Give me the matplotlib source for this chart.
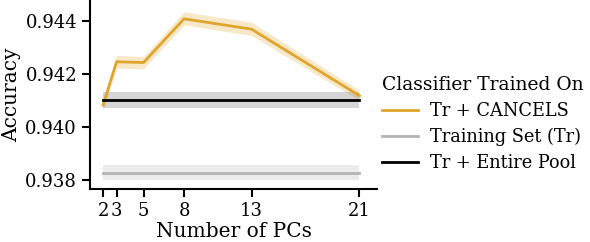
import matplotlib
matplotlib.use('Agg')
import matplotlib.pyplot as plt

plt.rcParams['font.family'] = 'DejaVu Serif'

# Number of PCs used by CANCELS
pcs = [2, 3, 5, 8, 13, 21]
cancels = [0.94083, 0.94246, 0.94243, 0.94408, 0.94369, 0.94118]
cancels_lo = [0.94060, 0.94222, 0.94220, 0.94385, 0.94345, 0.94100]
cancels_hi = [0.94106, 0.94270, 0.94266, 0.94435, 0.94395, 0.94138]

# Baselines (constant over PCs)
train_only = 0.93826
train_only_lo, train_only_hi = 0.93800, 0.93858
entire_pool = 0.94100
entire_pool_lo, entire_pool_hi = 0.94072, 0.94132

gold = '#e0a52c'
grey = '#b3b3b3'

fig = plt.figure(figsize=(5.9, 2.42), dpi=100)
ax = fig.add_axes([0.153, 0.219, 0.486, 0.781])

ax.fill_between(pcs, cancels_lo, cancels_hi, color=gold, alpha=0.25, lw=0)
ax.plot(pcs, cancels, color=gold, lw=2, label='Tr + CANCELS')

ends = [pcs[0], pcs[-1]]
ax.fill_between(ends, train_only_lo, train_only_hi, color=grey, alpha=0.25, lw=0)
ax.plot(ends, [train_only] * 2, color=grey, lw=2, label='Training Set (Tr)')

ax.fill_between(ends, entire_pool_lo, entire_pool_hi, color='#888888', alpha=0.35, lw=0)
ax.plot(ends, [entire_pool] * 2, color='black', lw=2, label='Tr + Entire Pool')

ax.set_xlim(1.05, 22.3)
ax.set_ylim(0.93766, 0.94479)
ax.set_xticks(pcs)
ax.set_yticks([0.938, 0.940, 0.942, 0.944])
ax.tick_params(labelsize=13, length=6, width=1.5, pad=3.5)
for s in ['top', 'right']:
    ax.spines[s].set_visible(False)
for s in ['left', 'bottom']:
    ax.spines[s].set_linewidth(1.5)

ax.set_xlabel('Number of PCs', fontsize=14.5, labelpad=1)
ax.set_ylabel('Accuracy', fontsize=14.5, labelpad=3)

leg = ax.legend(title='Classifier Trained On', fontsize=12.8, title_fontsize=13.5,
                frameon=False, loc='upper left', bbox_to_anchor=(0.636, 0.715),
                bbox_transform=fig.transFigure, borderaxespad=0,
                handlelength=2.0, handletextpad=0.7, labelspacing=0.45)
leg._legend_box.align = 'left'

fig.savefig('out.png', dpi=100)
